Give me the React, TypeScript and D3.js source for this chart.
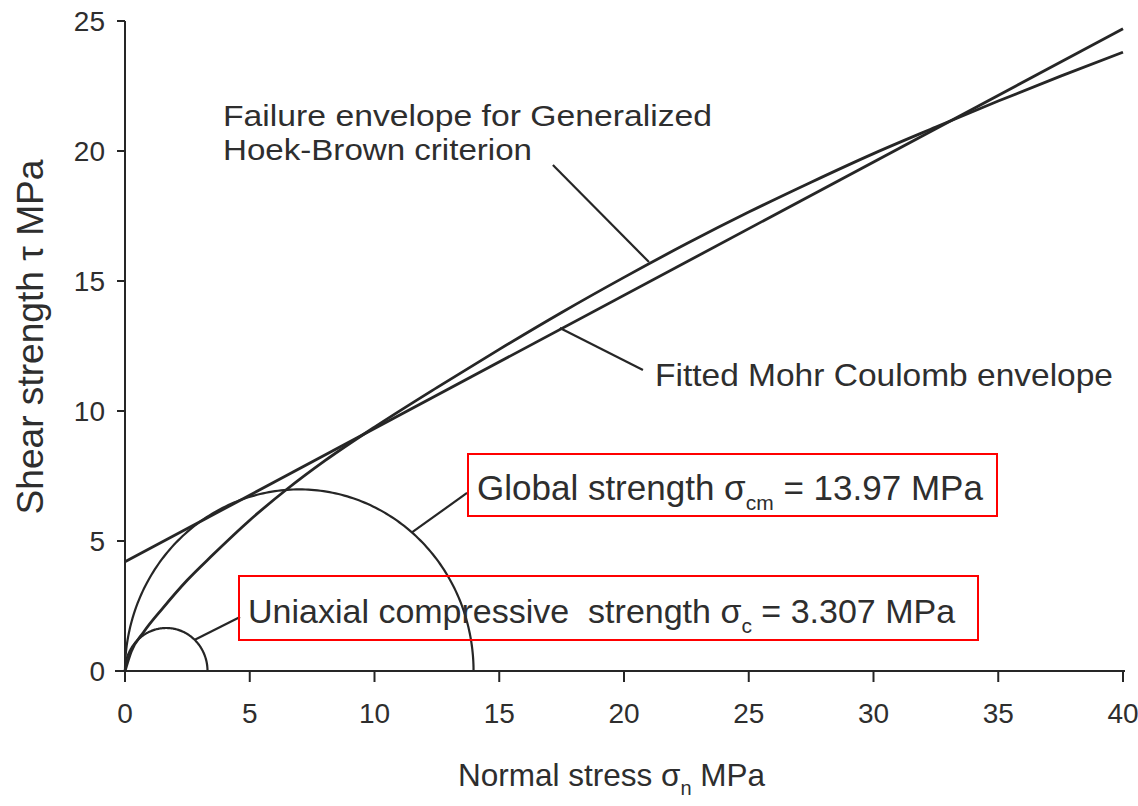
import React from "react";
import * as d3 from "d3";

// ---- data ----
const xTicks = [0, 5, 10, 15, 20, 25, 30, 35, 40];
const yTicks = [0, 5, 10, 15, 20, 25];

// Generalized Hoek-Brown failure envelope (sigma_n, tau) in MPa
const hbSigma = [0, 0.25, 0.75, 1.5, 2.5, 3.5, 5, 6.5, 8, 10, 12.5, 15, 17.5, 20, 22.5, 25, 27.5, 30, 32.5, 35, 37.5, 40];
const hbTau = [0, 0.75, 1.5, 2.4, 3.5, 4.45, 5.8, 7.0, 8.08, 9.38, 10.9, 12.37, 13.79, 15.14, 16.43, 17.65, 18.8, 19.9, 20.92, 21.92, 22.88, 23.8];

// Fitted Mohr-Coulomb envelope (straight line): end points
const mcSigma = [0, 40];
const mcTau = [4.2, 24.7];

// Mohr circles: uniaxial (sigma3 = 0, sigma1 = sigma_c) and global (sigma1 = sigma_cm)
const circleSigma1 = [3.307, 13.97];

// leader lines in data units [sigma, tau] start -> end
const leaderHB = [[17.15, 19.46], [21.0, 15.73]];
const leaderMC = [[17.43, 13.19], [20.76, 11.58]];
const leaderGlobal = [[11.5, 5.33], [13.71, 6.85]];
const leaderUCS = [[2.8, 1.2], [4.61, 2.08]];

const W = 1138;
const H = 806;
const FONT = "'Liberation Sans', Arial, Helvetica, sans-serif";
const INK = "#262626";
const TXT = "#2e2e2e";

export default function App() {
  const x = d3.scaleLinear().domain([0, 40]).range([125, 1123]);
  const y = d3.scaleLinear().domain([0, 25]).range([671, 21]);

  const line = d3
    .line<[number, number]>()
    .x((d) => x(d[0]))
    .y((d) => y(d[1]));

  const hbPts: [number, number][] = hbSigma.map((s, i) => [s, hbTau[i]]);
  const hbPath = d3
    .line<[number, number]>()
    .x((d) => x(d[0]))
    .y((d) => y(d[1]))
    .curve(d3.curveMonotoneX)(hbPts);

  const mcPath = line(mcSigma.map((s, i) => [s, mcTau[i]] as [number, number]));

  const circlePaths = circleSigma1.map((s1) => {
    const c = s1 / 2;
    const r = s1 / 2;
    const pts: [number, number][] = d3.range(0, 181).map((deg) => {
      const t = (deg * Math.PI) / 180;
      return [c - r * Math.cos(t), r * Math.sin(t)] as [number, number];
    });
    return line(pts);
  });

  const leaders = [leaderHB, leaderMC, leaderGlobal, leaderUCS];

  return (
    <svg
      width={W}
      height={H}
      viewBox={`0 0 ${W} ${H}`}
      style={{ position: "absolute", left: 0, top: 0, background: "#fff" }}
      fontFamily={FONT}
    >
      <rect x={0} y={0} width={W} height={H} fill="#fff" />

      {/* axes */}
      <line x1={x(0)} y1={y(0)} x2={x(0)} y2={y(25)} stroke={INK} strokeWidth={2} />
      <line x1={x(0) - 10} y1={y(0)} x2={x(40) + 2} y2={y(0)} stroke={INK} strokeWidth={2} />
      {yTicks.map((t) => (
        <g key={"y" + t}>
          <line x1={x(0) - 8} x2={x(0)} y1={y(t)} y2={y(t)} stroke={INK} strokeWidth={2} />
          <text x={105} y={y(t)} dy="0.36em" textAnchor="end" fontSize={28} fill={TXT}>
            {t}
          </text>
        </g>
      ))}
      {xTicks.map((t) => (
        <g key={"x" + t}>
          <line x1={x(t)} x2={x(t)} y1={y(0)} y2={y(0) + 11} stroke={INK} strokeWidth={2} />
          <text x={x(t)} y={723} textAnchor="middle" fontSize={28} fill={TXT}>
            {t}
          </text>
        </g>
      ))}

      {/* axis titles */}
      <text x={458} y={786} fontSize={31.5} fill={TXT}>
        Normal stress σ
        <tspan fontSize={20} dy={9}>n</tspan>
        <tspan dy={-9}> MPa</tspan>
      </text>
      <text
        transform={`translate(43, 337) rotate(-90)`}
        textAnchor="middle"
        fontSize={36}
        fill={TXT}
        textLength={355}
        lengthAdjust="spacingAndGlyphs"
      >
        Shear strength τ MPa
      </text>

      {/* envelopes */}
      <path d={mcPath || ""} fill="none" stroke={INK} strokeWidth={2.8} />
      <path d={hbPath || ""} fill="none" stroke={INK} strokeWidth={2.8} />
      {circlePaths.map((d, i) => (
        <path key={"c" + i} d={d || ""} fill="none" stroke={INK} strokeWidth={2.2} />
      ))}

      {/* leaders */}
      {leaders.map((l, i) => (
        <line
          key={"l" + i}
          x1={x(l[0][0])}
          y1={y(l[0][1])}
          x2={x(l[1][0])}
          y2={y(l[1][1])}
          stroke={INK}
          strokeWidth={2.2}
        />
      ))}

      {/* annotation text */}
      <text x={223} y={126} fontSize={30} fill={TXT} textLength={489} lengthAdjust="spacingAndGlyphs">
        Failure envelope for Generalized
      </text>
      <text x={223} y={160} fontSize={30} fill={TXT} textLength={309} lengthAdjust="spacingAndGlyphs">
        Hoek-Brown criterion
      </text>
      <text x={655} y={386} fontSize={32} fill={TXT} textLength={458} lengthAdjust="spacingAndGlyphs">
        Fitted Mohr Coulomb envelope
      </text>

      {/* boxed labels */}
      <rect x={468} y={454} width={529} height={62} fill="none" stroke="#ff0000" strokeWidth={2} />
      <text x={477} y={500} fontSize={35} fill={TXT}>
        Global strength σ
        <tspan fontSize={21} dy={10}>cm</tspan>
        <tspan dy={-10}> = 13.97 MPa</tspan>
      </text>

      <rect x={239} y={576} width={739} height={64} fill="none" stroke="#ff0000" strokeWidth={2} />
      <text x={248} y={623} fontSize={34} fill={TXT} style={{ whiteSpace: "pre" }}>
        {"Uniaxial compressive  strength σ"}
        <tspan fontSize={21} dy={10}>c</tspan>
        <tspan dy={-10}>{" = 3.307 MPa"}</tspan>
      </text>
    </svg>
  );
}
